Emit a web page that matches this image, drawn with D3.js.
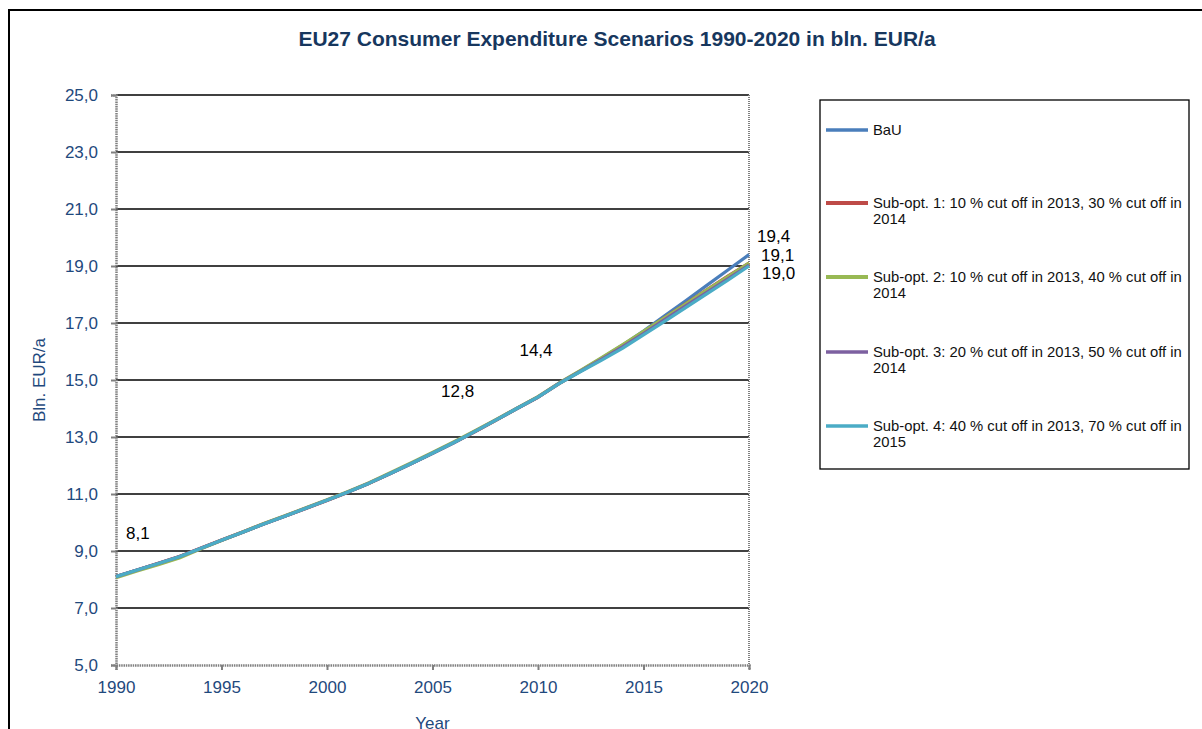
<!DOCTYPE html>
<html>
<head>
<meta charset="utf-8">
<script src="https://cdn.jsdelivr.net/npm/d3@7"></script>
<style>
  html, body { margin: 0; padding: 0; background: #fff; }
  svg { display: block; font-family: "Liberation Sans", Arial, sans-serif; }
</style>
</head>
<body>
<svg id="chart" width="1202" height="729"></svg>
<script>
// Consumer expenditure, EU27, bln. EUR per year
const years = d3.range(1990, 2021);

const bau  = [8.10, 8.33, 8.56, 8.80, 9.09, 9.38, 9.66, 9.95, 10.22, 10.50, 10.78,
              11.07, 11.38, 11.72, 12.07, 12.43, 12.80, 13.19, 13.59, 14.00, 14.40,
              14.88, 15.31, 15.76, 16.22, 16.72, 17.25, 17.78, 18.32, 18.86, 19.40];
const sub1 = [8.10, 8.33, 8.56, 8.80, 9.09, 9.38, 9.66, 9.95, 10.22, 10.50, 10.78,
              11.07, 11.38, 11.72, 12.07, 12.43, 12.80, 13.19, 13.59, 14.00, 14.40,
              14.88, 15.31, 15.74, 16.20, 16.68, 17.18, 17.67, 18.16, 18.64, 19.10];
const sub2 = [8.07, 8.30, 8.52, 8.76, 9.07, 9.37, 9.66, 9.96, 10.23, 10.51, 10.79,
              11.08, 11.39, 11.74, 12.09, 12.45, 12.82, 13.21, 13.60, 14.01, 14.41,
              14.89, 15.32, 15.77, 16.23, 16.70, 17.18, 17.66, 18.15, 18.62, 19.10];
const sub3 = [8.10, 8.33, 8.56, 8.80, 9.09, 9.38, 9.66, 9.95, 10.22, 10.50, 10.78,
              11.07, 11.38, 11.72, 12.07, 12.43, 12.80, 13.19, 13.59, 14.00, 14.40,
              14.88, 15.30, 15.72, 16.16, 16.63, 17.12, 17.60, 18.08, 18.55, 19.03];
const sub4 = [8.10, 8.33, 8.56, 8.80, 9.09, 9.38, 9.66, 9.95, 10.22, 10.50, 10.78,
              11.07, 11.38, 11.72, 12.07, 12.43, 12.80, 13.19, 13.59, 14.00, 14.40,
              14.87, 15.29, 15.69, 16.11, 16.58, 17.06, 17.54, 18.02, 18.50, 19.00];

const seriesNames = [
  "BaU",
  "Sub-opt. 1: 10 % cut off in 2013, 30 % cut off in 2014",
  "Sub-opt. 2: 10 % cut off in 2013, 40 % cut off in 2014",
  "Sub-opt. 3: 20 % cut off in 2013, 50 % cut off in 2014",
  "Sub-opt. 4: 40 % cut off in 2013, 70 % cut off in 2015"
];
const seriesValues = [bau, sub1, sub2, sub3, sub4];
const seriesColors = ["#4A7EBB", "#BE4B48", "#98B954", "#7D60A0", "#4BACC6"];
const seriesWidths = [3.2, 3.5, 3.5, 3.2, 3.2];

const yTicks = [5, 7, 9, 11, 13, 15, 17, 19, 21, 23, 25];
const xTicks = [1990, 1995, 2000, 2005, 2010, 2015, 2020];

// value labels: series index, year
const valueLabels = [
  { s: 0, year: 1990 },
  { s: 0, year: 2006 },
  { s: 0, year: 2010 },
  { s: 0, year: 2020 },
  { s: 1, year: 2020 },
  { s: 4, year: 2020 }
];
// placement of each value label relative to its point (px)
const labelOffsets = [
  { dx: 10, dy: -38, anchor: "start" },
  { dx: 4,  dy: -46, anchor: "middle" },
  { dx: -2, dy: -41, anchor: "middle" },
  { dx: 8,  dy: -13, anchor: "start" },
  { dx: 12, dy: -2,  anchor: "start" },
  { dx: 13, dy: 13,  anchor: "start" }
];

const navy = "#1F497D";
const svg = d3.select("#chart");

// outer chart frame
svg.append("rect")
  .attr("x", 9).attr("y", 10).attr("width", 1230).attr("height", 760)
  .attr("fill", "none").attr("stroke", "#000").attr("stroke-width", 2);

// title
svg.append("text")
  .attr("x", 617).attr("y", 46)
  .attr("text-anchor", "middle")
  .attr("font-size", 21).attr("font-weight", "bold")
  .attr("fill", "#17375E")
  .text("EU27 Consumer Expenditure Scenarios 1990-2020 in bln. EUR/a");

const plot = { left: 116, right: 749, top: 95, bottom: 665 };

const x = d3.scaleLinear().domain([1990, 2020]).range([plot.left, plot.right]);
const y = d3.scaleLinear().domain([5, 25]).range([plot.bottom, plot.top]);

// horizontal gridlines
svg.append("g")
  .selectAll("line")
  .data(yTicks.filter(v => v > 5))
  .join("line")
  .attr("x1", plot.left).attr("x2", plot.right)
  .attr("y1", d => y(d)).attr("y2", d => y(d))
  .attr("stroke", "#000").attr("stroke-width", 1.5);

// right plot border (dotted gray)
svg.append("line")
  .attr("x1", plot.right).attr("x2", plot.right)
  .attr("y1", plot.top).attr("y2", plot.bottom)
  .attr("stroke", "#808080").attr("stroke-width", 2)
  .attr("stroke-dasharray", "1,1");

// y axis
const yAxis = svg.append("g")
  .attr("transform", `translate(${plot.left},0)`)
  .call(d3.axisLeft(y).tickValues(yTicks).tickSize(5).tickPadding(13)
    .tickFormat(d => d3.format(".1f")(d).replace(".", ",")));
yAxis.select(".domain").attr("stroke", "#808080").attr("stroke-width", 2.5)
  .attr("stroke-dasharray", "1.5,0.8");
yAxis.selectAll(".tick line").attr("stroke", "#808080").attr("stroke-width", 2);
yAxis.selectAll(".tick text").attr("font-size", 17).attr("fill", navy)
  .attr("font-family", "Liberation Sans, Arial, sans-serif");

// x axis
const xAxis = svg.append("g")
  .attr("transform", `translate(0,${plot.bottom})`)
  .call(d3.axisBottom(x).tickValues(xTicks).tickSize(5).tickPadding(11)
    .tickFormat(d3.format("d")));
xAxis.select(".domain").attr("stroke", "#808080").attr("stroke-width", 2.5)
  .attr("stroke-dasharray", "1.5,0.8");
xAxis.selectAll(".tick line").attr("stroke", "#808080").attr("stroke-width", 2);
xAxis.selectAll(".tick text").attr("font-size", 17).attr("fill", navy)
  .attr("font-family", "Liberation Sans, Arial, sans-serif");

// axis titles
svg.append("text")
  .attr("transform", `translate(45,${(plot.top + plot.bottom) / 2}) rotate(-90)`)
  .attr("text-anchor", "middle")
  .attr("font-size", 17).attr("fill", navy)
  .text("Bln. EUR/a");

svg.append("text")
  .attr("x", (plot.left + plot.right) / 2).attr("y", 729)
  .attr("text-anchor", "middle")
  .attr("font-size", 17).attr("fill", navy)
  .text("Year");

// series lines
const line = d3.line()
  .x((d, i) => x(years[i]))
  .y(d => y(d));

svg.append("g")
  .selectAll("path")
  .data(seriesValues)
  .join("path")
  .attr("d", d => line(d))
  .attr("fill", "none")
  .attr("stroke", (d, i) => seriesColors[i])
  .attr("stroke-width", (d, i) => seriesWidths[i])
  .attr("stroke-linejoin", "round");

// value labels
svg.append("g")
  .selectAll("text")
  .data(valueLabels)
  .join("text")
  .attr("x", (d, i) => x(d.year) + labelOffsets[i].dx)
  .attr("y", (d, i) => y(seriesValues[d.s][years.indexOf(d.year)]) + labelOffsets[i].dy)
  .attr("text-anchor", (d, i) => labelOffsets[i].anchor)
  .attr("font-size", 17).attr("fill", "#000")
  .text(d => d3.format(".1f")(seriesValues[d.s][years.indexOf(d.year)]).replace(".", ","));

// legend
const legend = svg.append("g");
legend.append("rect")
  .attr("x", 820).attr("y", 100).attr("width", 369).attr("height", 369)
  .attr("fill", "#fff").attr("stroke", "#000").attr("stroke-width", 1.3);

const entryY = [130, 203, 277, 352, 426];
seriesNames.forEach((name, i) => {
  const g = legend.append("g");
  g.append("line")
    .attr("x1", 826).attr("x2", 868)
    .attr("y1", entryY[i]).attr("y2", entryY[i])
    .attr("stroke", seriesColors[i])
    .attr("stroke-width", seriesWidths[i] + 0.5);
  const t = g.append("text")
    .attr("x", 873).attr("y", entryY[i] + 5)
    .attr("font-size", 14.8).attr("fill", "#111");
  const cut = name.lastIndexOf(" ");
  if (i === 0) {
    t.text(name);
  } else {
    t.append("tspan").attr("x", 873).text(name.slice(0, cut));
    t.append("tspan").attr("x", 873).attr("dy", 16).text(name.slice(cut + 1));
  }
});
</script>
</body>
</html>
